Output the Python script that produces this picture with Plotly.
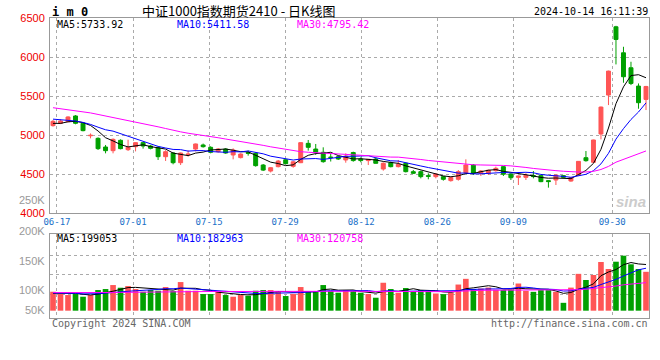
import plotly.graph_objects as go

# ---------------- data ----------------
dates = ["06-14",
         "06-17", "06-18", "06-19", "06-20", "06-21", "06-24", "06-25", "06-26", "06-27", "06-28",
         "07-01", "07-02", "07-03", "07-04", "07-05", "07-08", "07-09", "07-10", "07-11", "07-12",
         "07-15", "07-16", "07-17", "07-18", "07-19", "07-22", "07-23", "07-24", "07-25", "07-26",
         "07-29", "07-30", "07-31", "08-01", "08-02", "08-05", "08-06", "08-07", "08-08", "08-09",
         "08-12", "08-13", "08-14", "08-15", "08-16", "08-19", "08-20", "08-21", "08-22", "08-23",
         "08-26", "08-27", "08-28", "08-29", "08-30", "09-02", "09-03", "09-04", "09-05", "09-06",
         "09-09", "09-10", "09-11", "09-12", "09-13", "09-18", "09-19", "09-20",
         "09-23", "09-24", "09-25", "09-26", "09-27", "09-30",
         "10-08", "10-09", "10-10", "10-11", "10-14"]

opens = [5120, 5150, 5171, 5244, 5150, 4990, 4957, 4846, 4799, 4932,
         4812, 4850, 4902, 4859, 4842, 4722, 4769, 4645, 4748, 4820,
         4872, 4842, 4786, 4820, 4744, 4710, 4774, 4765, 4615, 4538,
         4594, 4683, 4598, 4645, 4893, 4820, 4778, 4717, 4722, 4680,
         4775, 4692, 4672, 4692, 4564, 4645, 4594, 4637, 4530, 4530,
         4479, 4466, 4466, 4415, 4432, 4517, 4615, 4509, 4509, 4543,
         4594, 4500, 4457, 4457, 4480, 4479, 4415, 4423, 4479, 4410,
         4487, 4709, 4650, 5013, 5512, 6387, 6054, 5862, 5627, 5456]

highs = [5192, 5200, 5240, 5255, 5167, 5020, 4970, 4872, 4957, 4944,
         4940, 4906, 4906, 4872, 4850, 4805, 4778, 4775, 4803, 4890,
         4890, 4855, 4833, 4830, 4829, 4765, 4800, 4778, 4628, 4590,
         4680, 4690, 4665, 4905, 4936, 4885, 4842, 4765, 4730, 4765,
         4786, 4713, 4690, 4713, 4650, 4658, 4680, 4645, 4551, 4543,
         4509, 4509, 4474, 4460, 4551, 4688, 4628, 4551, 4555, 4594,
         4603, 4509, 4480, 4509, 4538, 4485, 4423, 4490, 4485, 4460,
         4665, 4795, 4940, 5365, 5825, 6400, 6131, 5939, 5661, 5630]

lows = [5107, 5140, 5165, 5137, 5047, 4957, 4808, 4765, 4765, 4816,
        4795, 4790, 4825, 4816, 4680, 4667, 4624, 4615, 4722, 4790,
        4838, 4765, 4774, 4760, 4688, 4700, 4735, 4594, 4538, 4520,
        4585, 4625, 4580, 4640, 4800, 4745, 4645, 4660, 4680, 4645,
        4658, 4650, 4615, 4635, 4543, 4585, 4585, 4520, 4500, 4444,
        4432, 4444, 4415, 4402, 4415, 4510, 4487, 4474, 4487, 4530,
        4474, 4423, 4359, 4423, 4444, 4395, 4325, 4359, 4450, 4400,
        4478, 4658, 4640, 4944, 5384, 5905, 5670, 5640, 5337, 5320]

closes = [5175, 5180, 5231, 5150, 5056, 4996, 4825, 4799, 4944, 4825,
          4842, 4902, 4859, 4829, 4722, 4786, 4645, 4769, 4755, 4885,
          4850, 4778, 4820, 4769, 4808, 4756, 4765, 4607, 4550, 4581,
          4666, 4632, 4656, 4902, 4842, 4778, 4658, 4712, 4692, 4730,
          4672, 4672, 4688, 4637, 4637, 4594, 4624, 4530, 4509, 4466,
          4470, 4500, 4432, 4454, 4530, 4615, 4510, 4538, 4548, 4573,
          4497, 4452, 4474, 4484, 4467, 4402, 4403, 4487, 4457, 4454,
          4662, 4671, 4936, 5358, 5819, 6225, 5747, 5661, 5414, 5622]

volumes = [81700, 71800, 67500, 71800, 60200, 67500, 89000, 93300, 110500, 98900,
           106200, 93300, 81700, 89000, 86000, 101900, 84700, 123400, 86000, 86000,
           71800, 71800, 81700, 67500, 60200, 67500, 64500, 86000, 89000, 89000,
           84700, 63200, 71800, 101900, 84700, 84700, 110500, 84700, 77400, 89000,
           84700, 77400, 71800, 55900, 120400, 93300, 77400, 97600, 84700, 89000,
           85600, 74000, 71400, 78300, 112700, 137300, 92900, 95500, 99800, 89900,
           89900, 89900, 117100, 85600, 81300, 88600, 88600, 81300, 33900, 99510,
           158765, 132300, 153800, 209800, 179700, 211100, 237000, 199900, 179700, 167565]

# sessions before the first visible candle (only used to seed the moving averages)
prior_closes = [5560, 5530, 5540, 5500, 5480, 5420, 5380, 5400, 5420, 5390,
                5450, 5490, 5480, 5460, 5440, 5380, 5320, 5290, 5270, 5260,
                5280, 5250, 5270, 5240, 5250, 5180, 5130, 5120, 5140]
prior_volumes = [78000, 82000, 75000, 70000, 88000, 80000, 76000, 72000, 85000, 90000,
                 79000, 74000, 70000, 83000, 86000, 77000, 73000, 81000, 84000, 76000,
                 70000, 75000, 80000, 85000, 78000, 72000, 68000, 74000, 80000]

tick_dates = ["06-17", "07-01", "07-15", "07-29", "08-12", "08-26", "09-09", "09-30"]
price_ticks = [4000, 4500, 5000, 5500, 6000, 6500]

title_text = "中证1000指数期货2410 - 日K线图"
symbol_text = "i m 0"
time_text = "2024-10-14 16:11:39"
price_ma_text = ["MA5:5733.92", "MA10:5411.58", "MA30:4795.42"]
vol_ma_text = ["MA5:199053", "MA10:182963", "MA30:120758"]
vol_labels = ["200K", "150K", "100K", "50K"]

# ---------------- styling ----------------
RED = "#ff5555"
GREEN = "#00a000"
MA_COLORS = ["#000000", "#0000ff", "#ff00ff"]
GRID = "#aaaaaa"
FRAME = "#999999"
MONO = "DejaVu Sans Mono, monospace"

n = len(dates)
x = list(range(n))


def moving_average(values, prior, period):
    full = prior + values
    off = len(prior)
    out = []
    for i in range(n):
        j = off + i
        window = full[max(0, j - period + 1): j + 1]
        out.append(sum(window) / len(window))
    return out


price_ma = [moving_average(closes, prior_closes, p) for p in (5, 10, 30)]
vol_ma = [moving_average(volumes, prior_volumes, p) for p in (5, 10, 30)]
bar_colors = [RED if c >= o else GREEN for o, c in zip(opens, closes)]

# Sina's date grid advances 7.6 px per session while candles step 7.5 px
first_tick = dates.index(tick_dates[0]) - 0.47
grid_step = 7.6 / 7.5
tick_pos = [first_tick + (dates.index(d) - dates.index(tick_dates[0])) * grid_step
            for d in tick_dates]

fig = go.Figure()
fig.add_trace(go.Candlestick(
    x=x, open=opens, high=highs, low=lows, close=closes,
    increasing=dict(line=dict(color=RED, width=1), fillcolor=RED),
    decreasing=dict(line=dict(color=GREEN, width=1), fillcolor=GREEN),
    whiskerwidth=0, xaxis="x", yaxis="y", showlegend=False, hoverinfo="skip"))
for ma, col in zip(price_ma, MA_COLORS):
    fig.add_trace(go.Scatter(x=x, y=ma, mode="lines", line=dict(color=col, width=1),
                             xaxis="x", yaxis="y", showlegend=False, hoverinfo="skip"))

fig.add_trace(go.Bar(x=x, y=volumes, marker=dict(color=bar_colors, line=dict(width=0)),
                     xaxis="x2", yaxis="y2", showlegend=False, hoverinfo="skip"))
for ma, col in zip(vol_ma, MA_COLORS):
    fig.add_trace(go.Scatter(x=x, y=ma, mode="lines", line=dict(color=col, width=1),
                             xaxis="x2", yaxis="y2", showlegend=False, hoverinfo="skip"))

L, R, T, B = 50, 649, 18, 318
W, H = 660, 360


def paper(xp, yp):
    return (xp - L) / (R - L), (B - yp) / (B - T)


annotations = []


def add_text(text, xp, yp, anchor, color, size, family, bold=False):
    px_, py_ = paper(xp, yp)
    annotations.append(dict(
        text=f"<b>{text}</b>" if bold else text, x=px_, y=py_, xref="paper", yref="paper",
        xanchor=anchor, yanchor="middle", showarrow=False,
        font=dict(color=color, size=size, family=family)))


add_text(symbol_text, 50, 12, "left", "#000000", 12, MONO, bold=True)
add_text(title_text, 140, 11, "left", "#000000", 13, "Noto Sans CJK SC")
add_text(time_text, 650, 12, "right", "#000000", 10, MONO)
for txt, col, xp in zip(price_ma_text, MA_COLORS, (55, 175, 295)):
    add_text(txt, xp, 24, "left", col, 10, MONO)
for txt, col, xp in zip(vol_ma_text, MA_COLORS, (55, 175, 295)):
    add_text(txt, xp, 238, "left", col, 10, MONO)
add_text("250K", 47, 200, "right", "#999999", 11, "Liberation Sans")
for txt, yp in zip(vol_labels, (231, 261, 290, 310)):
    add_text(txt, 47, yp, "right", "#999999", 11, "Liberation Sans")
add_text("Copyright 2024 SINA.COM", 50, 323, "left", "#666666", 10, MONO)
add_text("http://finance.sina.com.cn", 650, 323, "right", "#666666", 10, MONO)
add_text("<i>sina</i>", 648, 201, "right", "#cccccc", 15, "Liberation Sans", bold=True)

xrange_ = [-0.4, n - 0.6]
common_x = dict(range=xrange_, tickvals=tick_pos, showgrid=True, gridcolor=GRID,
                griddash="dot", gridwidth=1, showline=True, mirror=True, linecolor=FRAME,
                linewidth=1, zeroline=False, ticks="", fixedrange=True)

fig.update_layout(
    width=W, height=H,
    margin=dict(l=L, r=W - R, t=T, b=H - B),
    paper_bgcolor="white", plot_bgcolor="white",
    bargap=0.25, boxgap=0.25,
    annotations=annotations,
    xaxis=dict(**common_x, domain=[0, 1], anchor="y", ticktext=tick_dates,
               showticklabels=True, tickfont=dict(color="#1a6fc8", size=9, family=MONO),
               rangeslider=dict(visible=False), ticklabelstandoff=0),
    yaxis=dict(domain=[(B - 213) / (B - T), 1], range=[4000, 6500], tickvals=price_ticks,
               tickfont=dict(color="#ee0000", size=11, family="Liberation Sans"),
               showgrid=True, gridcolor=GRID, griddash="dot", showline=True, mirror=True,
               linecolor=FRAME, zeroline=False, ticks="", fixedrange=True, ticklabelstandoff=2),
    xaxis2=dict(**common_x, domain=[0, 1], anchor="y2", showticklabels=False),
    yaxis2=dict(domain=[0, (B - 234) / (B - T)], range=[-31500, 330500],
                tickvals=[67700, 153900, 240000], showticklabels=False,
                showgrid=True, gridcolor=GRID, griddash="dot", showline=True, mirror=True,
                linecolor=FRAME, zeroline=False, ticks="", fixedrange=True),
)

fig.write_html("out.html", config={"displayModeBar": False},
               post_script="document.body.style.margin='0px';")
